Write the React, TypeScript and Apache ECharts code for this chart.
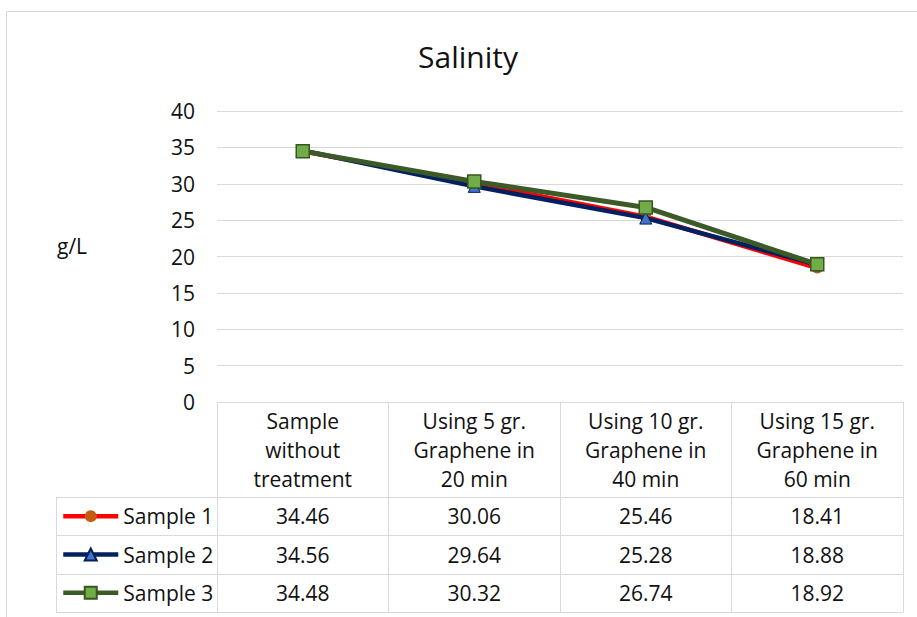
import React, { useEffect, useRef } from "react";
import * as echarts from "echarts";

const chartTitle = "Salinity";
const yAxisName = "g/L";
const categories = [
  "Sample\nwithout\ntreatment",
  "Using 5 gr.\nGraphene in\n20 min",
  "Using 10 gr.\nGraphene in\n40 min",
  "Using 15 gr.\nGraphene in\n60 min",
];
const seriesNames = ["Sample 1", "Sample 2", "Sample 3"];
const sample1 = [34.46, 30.06, 25.46, 18.41];
const sample2 = [34.56, 29.64, 25.28, 18.88];
const sample3 = [34.48, 30.32, 26.74, 18.92];
const yMin = 0;
const yMax = 40;
const yInterval = 5;

const FONT = "Open Sans";
const TEXT = "#111111";
const RULE = "#d9d9d9";

const GRID_LEFT = 217;
const GRID_RIGHT = 14;
const GRID_TOP = 111;
const AXIS_Y = 402;
const TABLE_LEFT = 56;
const ROW_LINES = [497, 535.3, 573.7, 612];

export default function App() {
  const ref = useRef<HTMLDivElement>(null);

  useEffect(() => {
    if (!ref.current) return;
    const chart = echarts.init(ref.current, undefined, { renderer: "svg" });
    const seriesData = [sample1, sample2, sample3];
    const option: any = {
      animation: false,
      textStyle: { fontFamily: FONT },
      grid: { left: GRID_LEFT, right: GRID_RIGHT, top: GRID_TOP, bottom: 617 - AXIS_Y, containLabel: false },
      xAxis: {
        type: "category",
        data: categories,
        boundaryGap: true,
        axisLine: { show: true, lineStyle: { color: RULE, width: 1 } },
        axisTick: { show: true, length: 210, interval: 0, lineStyle: { color: RULE, width: 1 } },
        axisLabel: { interval: 0, fontSize: 21, lineHeight: 29, color: TEXT, margin: 4, fontFamily: FONT },
        splitLine: { show: false },
      },
      yAxis: {
        type: "value",
        min: yMin,
        max: yMax,
        interval: yInterval,
        axisLine: { show: false },
        axisTick: { show: false },
        axisLabel: { fontSize: 21, color: TEXT, margin: 22, fontFamily: FONT },
        splitLine: { show: true, lineStyle: { color: RULE, width: 1 } },
      },
      legend: seriesNames.map((name, i) => ({
        orient: "vertical",
        left: 61,
        top: ROW_LINES[i],
        padding: 0,
        itemWidth: 55,
        itemHeight: 15,
        selectedMode: false,
        data: [name],
        textStyle: { fontSize: 21, lineHeight: ROW_LINES[i + 1] - ROW_LINES[i], color: TEXT, fontFamily: FONT },
        lineStyle: { width: 4.5 },
      })),
      series: [
        {
          name: seriesNames[0],
          type: "line",
          data: seriesData[0],
          symbol: "circle",
          symbolSize: 11,
          lineStyle: { color: "#FF0000", width: 4.5 },
          itemStyle: { color: "#C55A11", borderColor: "#C55A11", borderWidth: 0 },
          z: 2,
        },
        {
          name: seriesNames[1],
          type: "line",
          data: seriesData[1],
          symbol: "triangle",
          symbolSize: 12,
          lineStyle: { color: "#002060", width: 4.5 },
          itemStyle: { color: "#4472C4", borderColor: "#002060", borderWidth: 1 },
          z: 3,
        },
        {
          name: seriesNames[2],
          type: "line",
          data: seriesData[2],
          symbol: "rect",
          symbolSize: 13,
          lineStyle: { color: "#3C5A27", width: 5 },
          itemStyle: { color: "#70AD47", borderColor: "#375623", borderWidth: 1.5 },
          z: 4,
        },
      ],
    };
    chart.setOption(option);

    const xs = categories.map((_, i) => chart.convertToPixel({ xAxisIndex: 0 }, i) as number);
    const gridRight = 917 - GRID_RIGHT;
    const graphics: any[] = [
      {
        type: "rect",
        shape: { x: 6.5, y: 11.5, width: 930, height: 630 },
        style: { fill: "none", stroke: RULE, lineWidth: 1 },
        silent: true,
        z: -1,
      },
      {
        type: "text",
        x: 468,
        y: 56,
        style: { text: chartTitle, fontSize: 30, fontFamily: FONT, fill: TEXT, textAlign: "center", textVerticalAlign: "middle" },
      },
      {
        type: "text",
        x: 57,
        y: 246,
        style: { text: yAxisName, fontSize: 21, fontFamily: FONT, fill: TEXT, textAlign: "left", textVerticalAlign: "middle" },
      },
      {
        type: "line",
        shape: { x1: TABLE_LEFT + 0.5, y1: ROW_LINES[0], x2: TABLE_LEFT + 0.5, y2: ROW_LINES[ROW_LINES.length - 1] },
        style: { stroke: RULE, lineWidth: 1 },
      },
    ];
    ROW_LINES.forEach((y) => {
      const yy = Math.round(y) + 0.5;
      graphics.push({
        type: "line",
        shape: { x1: TABLE_LEFT, y1: yy, x2: gridRight + 0.5, y2: yy },
        style: { stroke: RULE, lineWidth: 1 },
      });
    });
    seriesData.forEach((vals, r) => {
      const cy = (ROW_LINES[r] + ROW_LINES[r + 1]) / 2;
      vals.forEach((v, c) => {
        graphics.push({
          type: "text",
          x: xs[c],
          y: cy,
          style: { text: v.toFixed(2), fontSize: 21, fontFamily: FONT, fill: TEXT, textAlign: "center", textVerticalAlign: "middle" },
        });
      });
    });
    chart.setOption({ graphic: graphics });

    return () => chart.dispose();
  }, []);

  return <div ref={ref} style={{ position: "absolute", left: 0, top: 0, width: 917, height: 617 }} />;
}
